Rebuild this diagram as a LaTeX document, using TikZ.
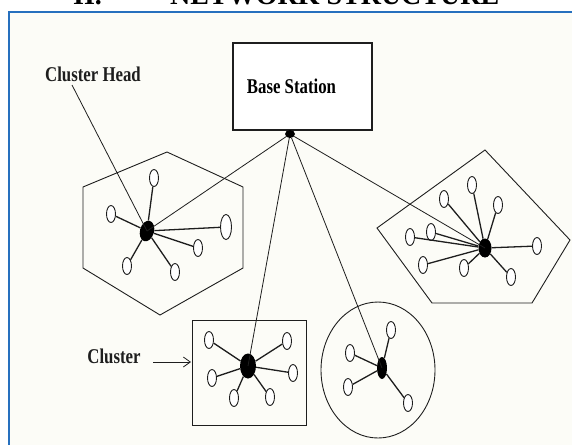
\documentclass[tikz,border=0pt]{standalone}
\usepackage{fontspec}
\setmainfont{Liberation Serif}
\usetikzlibrary{shapes.geometric,arrows.meta}
\definecolor{framblue}{RGB}{38,112,190}
\definecolor{paper}{RGB}{252,252,247}
\definecolor{ink}{RGB}{30,30,30}
\newcommand{\labfont}{\fontsize{21}{24}\selectfont\bfseries}
\begin{document}
\begin{tikzpicture}[x=1pt,y=-1pt,
  sn/.style={ellipse,draw=ink,line width=0.9pt,fill=white,minimum width=9pt,minimum height=17pt,inner sep=0pt},
  chd/.style={ellipse,fill=black,inner sep=0pt},
  link/.style={draw=ink,line width=1.3pt},
  uplink/.style={draw=ink,line width=0.8pt},
  border/.style={draw=ink,line width=0.9pt},
  lbl/.style={inner sep=0pt,text=ink}]
\useasboundingbox (0,0) rectangle (572,445);
\clip (0,0) rectangle (572,445);
\fill[white] (0,0) rectangle (572,445);
\fill[paper] (9,12) rectangle (572,445);
% title (cut off at top)
\node[lbl,anchor=base west,font=\fontsize{28}{30}\selectfont\bfseries,text=black] (t1) at (73,4) {II.};
\node[lbl,anchor=base west,font=\fontsize{28}{30}\selectfont\bfseries,text=black] (t2) at (170,4) {NETWORK STRUCTURE};
% frame
\draw[framblue,line width=2.5pt] (9,445) -- (9,12) -- (572,12);
% cluster outlines
\draw[border] (167,152) -- (243,187) -- (243,268) -- (160,315) -- (83,268) -- (83,187) -- cycle;
\draw[border] (485,150) -- (570,240) -- (532,303) -- (432,303) -- (377,228) -- cycle;
\draw[border] (192,320) rectangle (306,425);
\draw[border] (378,370) ellipse [x radius=57, y radius=68];
% base station
\node[draw=ink,line width=1.2pt,minimum width=139pt,minimum height=87pt,inner sep=0pt,fill=white] (bsbox) at (302.5,86.5) {\scalebox{0.8}[1]{\labfont Base Station}\hspace*{22pt}};
\node[chd,minimum width=10pt,minimum height=8pt] (bs) at (290,134) {};
% cluster heads
\node[chd,minimum width=14pt,minimum height=21pt,rotate=-15] (h1) at (147,231) {};
\node[chd,minimum width=13pt,minimum height=19pt] (h2) at (485,248) {};
\node[chd,minimum width=16pt,minimum height=25pt] (h3) at (248,366) {};
\node[chd,minimum width=10pt,minimum height=22pt] (h4) at (382,368) {};
% uplinks
\draw[uplink] (bs) -- (h1.center);
\draw[uplink] (bs) -- (h2.center);
\draw[uplink] (bs) -- (h3.center);
\draw[uplink] (bs) -- (h4.center);
% labels
\node[lbl] (chl) at (93,74) {\scalebox{0.8}[1]{\labfont Cluster Head}};
\coordinate (chp) at (72,85);
\draw[uplink] (chp) -- (h1.center);
\node[lbl] (cll) at (114,356) {\scalebox{0.8}[1]{\labfont Cluster}};
\coordinate (cla) at (153,362);
\coordinate (clb) at (191,362);
\draw[uplink,-{Straight Barb[length=7pt,width=10pt]}] (cla) -- (clb);
% hexagon cluster
\foreach \x/\y [count=\i] in {154/178,111/214,198/248,175/272,127/266}{
  \node[sn] (a\i) at (\x,\y) {};
  \draw[link] (h1) -- (a\i);
}
\node[sn,minimum width=11pt,minimum height=25pt] (a6) at (226,227) {};
\draw[link] (h1) -- (a6);
% pentagon cluster
\foreach \x/\y [count=\i] in {472/185,444/199,498/205,431/232,410/237,537/246,423/265,464/268,511/277}{
  \node[sn] (b\i) at (\x,\y) {};
  \draw[link] (h2) -- (b\i);
}
% square cluster
\foreach \x/\y [count=\i] in {209/340,287/341,212/378,293/373,234/398,270/397}{
  \node[sn] (c\i) at (\x,\y) {};
  \draw[link] (h3) -- (c\i);
}
% circle cluster
\foreach \x/\y [count=\i] in {391/330,350/353,348/387,408/403}{
  \node[sn] (d\i) at (\x,\y) {};
  \draw[link] (h4) -- (d\i);
}
\end{tikzpicture}
\end{document}
